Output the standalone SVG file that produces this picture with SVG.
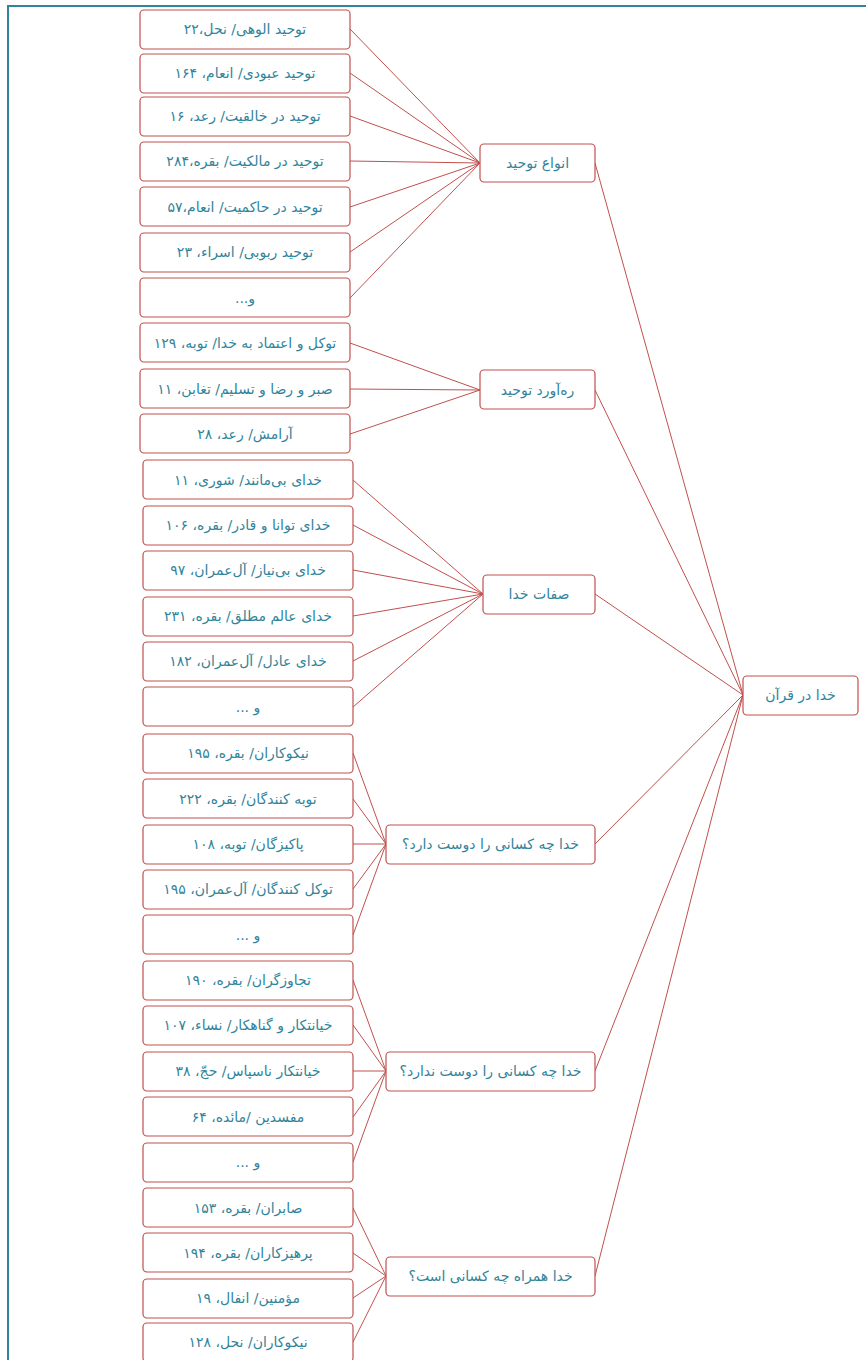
<svg xmlns="http://www.w3.org/2000/svg" width="866" height="1360" viewBox="0 0 866 1360">
<style>
.box{fill:#fff;stroke:#C0504D;stroke-width:1.2}
.t{font-family:"DejaVu Sans",sans-serif;font-size:14px;fill:#31849B;text-anchor:middle;direction:rtl}
.c line{stroke:#C0504D;stroke-width:1}
</style>
<rect width="866" height="1360" fill="#fff"/>
<path d="M8,1360 V6 H866" fill="none" stroke="#31849B" stroke-width="2"/>
<g class="c">
<line x1="350" y1="29" x2="480" y2="163"/>
<line x1="350" y1="73" x2="480" y2="163"/>
<line x1="350" y1="116" x2="480" y2="163"/>
<line x1="350" y1="161" x2="480" y2="163"/>
<line x1="350" y1="207" x2="480" y2="163"/>
<line x1="350" y1="252" x2="480" y2="163"/>
<line x1="350" y1="298" x2="480" y2="163"/>
<line x1="350" y1="343" x2="480" y2="390"/>
<line x1="350" y1="389" x2="480" y2="390"/>
<line x1="350" y1="434" x2="480" y2="390"/>
<line x1="353" y1="480" x2="483" y2="594"/>
<line x1="353" y1="525" x2="483" y2="594"/>
<line x1="353" y1="570" x2="483" y2="594"/>
<line x1="353" y1="616" x2="483" y2="594"/>
<line x1="353" y1="661" x2="483" y2="594"/>
<line x1="353" y1="707" x2="483" y2="594"/>
<line x1="353" y1="753" x2="386" y2="844"/>
<line x1="353" y1="799" x2="386" y2="844"/>
<line x1="353" y1="844" x2="386" y2="844"/>
<line x1="353" y1="889" x2="386" y2="844"/>
<line x1="353" y1="935" x2="386" y2="844"/>
<line x1="353" y1="980" x2="386" y2="1071"/>
<line x1="353" y1="1025" x2="386" y2="1071"/>
<line x1="353" y1="1071" x2="386" y2="1071"/>
<line x1="353" y1="1117" x2="386" y2="1071"/>
<line x1="353" y1="1162" x2="386" y2="1071"/>
<line x1="353" y1="1208" x2="386" y2="1276"/>
<line x1="353" y1="1253" x2="386" y2="1276"/>
<line x1="353" y1="1298" x2="386" y2="1276"/>
<line x1="353" y1="1342" x2="386" y2="1276"/>
<line x1="595" y1="163" x2="743" y2="695"/>
<line x1="595" y1="390" x2="743" y2="695"/>
<line x1="595" y1="594" x2="743" y2="695"/>
<line x1="595" y1="844" x2="743" y2="695"/>
<line x1="595" y1="1071" x2="743" y2="695"/>
<line x1="595" y1="1276" x2="743" y2="695"/>
</g>
<g id="root"><rect class="box" x="743" y="676" width="115" height="39" rx="4"/><text class="t" x="800.5" y="700">خدا در قرآن</text></g>
<g id="m1"><rect class="box" x="480" y="144" width="115" height="38" rx="4"/><text class="t" x="537.5" y="168">انواع توحید</text></g>
<g id="m2"><rect class="box" x="480" y="370" width="115" height="39" rx="4"/><text class="t" x="537.5" y="395">ره‌آورد توحید</text></g>
<g id="m3"><rect class="box" x="483" y="575" width="112" height="39" rx="4"/><text class="t" x="539" y="599">صفات خدا</text></g>
<g id="m4"><rect class="box" x="386" y="825" width="209" height="39" rx="4"/><text class="t" x="490.5" y="849">خدا چه کسانی را دوست دارد؟</text></g>
<g id="m5"><rect class="box" x="386" y="1052" width="209" height="39" rx="4"/><text class="t" x="490.5" y="1076">خدا چه کسانی را دوست ندارد؟</text></g>
<g id="m6"><rect class="box" x="386" y="1257" width="209" height="39" rx="4"/><text class="t" x="490.5" y="1281">خدا همراه چه کسانی است؟</text></g>
<g id="n1"><rect class="box" x="140" y="10" width="210" height="39" rx="4"/><text class="t" x="245" y="34">توحید الوهی/ نحل،۲۲</text></g>
<g id="n2"><rect class="box" x="140" y="54" width="210" height="39" rx="4"/><text class="t" x="245" y="78">توحید عبودی/ انعام، ۱۶۴</text></g>
<g id="n3"><rect class="box" x="140" y="97" width="210" height="39" rx="4"/><text class="t" x="245" y="121">توحید در خالقیت/ رعد، ۱۶</text></g>
<g id="n4"><rect class="box" x="140" y="142" width="210" height="39" rx="4"/><text class="t" x="245" y="166">توحید در مالکیت/ بقره،۲۸۴</text></g>
<g id="n5"><rect class="box" x="140" y="187" width="210" height="39" rx="4"/><text class="t" x="245" y="212">توحید در حاکمیت/ انعام،۵۷</text></g>
<g id="n6"><rect class="box" x="140" y="233" width="210" height="39" rx="4"/><text class="t" x="245" y="257">توحید ربوبی/ اسراء، ۲۳</text></g>
<g id="n7"><rect class="box" x="140" y="278" width="210" height="39" rx="4"/><text class="t" x="245" y="303">و...</text></g>
<g id="n8"><rect class="box" x="140" y="323" width="210" height="39" rx="4"/><text class="t" x="245" y="348">توکل و اعتماد به خدا/ توبه، ۱۲۹</text></g>
<g id="n9"><rect class="box" x="140" y="369" width="210" height="39" rx="4"/><text class="t" x="245" y="394">صبر و رضا و تسلیم/ تغابن، ۱۱</text></g>
<g id="n10"><rect class="box" x="140" y="414" width="210" height="39" rx="4"/><text class="t" x="245" y="439">آرامش/ رعد، ۲۸</text></g>
<g id="n11"><rect class="box" x="143" y="460" width="210" height="39" rx="4"/><text class="t" x="248" y="485">خدای بی‌مانند/ شوری، ۱۱</text></g>
<g id="n12"><rect class="box" x="143" y="506" width="210" height="39" rx="4"/><text class="t" x="248" y="530">خدای توانا و قادر/ بقره، ۱۰۶</text></g>
<g id="n13"><rect class="box" x="143" y="551" width="210" height="39" rx="4"/><text class="t" x="248" y="575">خدای بی‌نیاز/ آل‌عمران، ۹۷</text></g>
<g id="n14"><rect class="box" x="143" y="597" width="210" height="39" rx="4"/><text class="t" x="248" y="621">خدای عالم مطلق/ بقره، ۲۳۱</text></g>
<g id="n15"><rect class="box" x="143" y="642" width="210" height="39" rx="4"/><text class="t" x="248" y="666">خدای عادل/ آل‌عمران، ۱۸۲</text></g>
<g id="n16"><rect class="box" x="143" y="687" width="210" height="39" rx="4"/><text class="t" x="248" y="712">و ...</text></g>
<g id="n17"><rect class="box" x="143" y="734" width="210" height="39" rx="4"/><text class="t" x="248" y="758">نیکوکاران/ بقره، ۱۹۵</text></g>
<g id="n18"><rect class="box" x="143" y="779" width="210" height="39" rx="4"/><text class="t" x="248" y="804">توبه کنندگان/ بقره، ۲۲۲</text></g>
<g id="n19"><rect class="box" x="143" y="825" width="210" height="39" rx="4"/><text class="t" x="248" y="849">پاکیزگان/ توبه، ۱۰۸</text></g>
<g id="n20"><rect class="box" x="143" y="870" width="210" height="39" rx="4"/><text class="t" x="248" y="894">توکل کنندگان/ آل‌عمران، ۱۹۵</text></g>
<g id="n21"><rect class="box" x="143" y="915" width="210" height="39" rx="4"/><text class="t" x="248" y="940">و ...</text></g>
<g id="n22"><rect class="box" x="143" y="961" width="210" height="39" rx="4"/><text class="t" x="248" y="985">تجاوزگران/ بقره، ۱۹۰</text></g>
<g id="n23"><rect class="box" x="143" y="1006" width="210" height="39" rx="4"/><text class="t" x="248" y="1030">خیانتکار و گناهکار/ نساء، ۱۰۷</text></g>
<g id="n24"><rect class="box" x="143" y="1052" width="210" height="39" rx="4"/><text class="t" x="248" y="1076">خیانتکار ناسپاس/ حجّ، ۳۸</text></g>
<g id="n25"><rect class="box" x="143" y="1097" width="210" height="39" rx="4"/><text class="t" x="248" y="1122">مفسدین /مائده، ۶۴</text></g>
<g id="n26"><rect class="box" x="143" y="1143" width="210" height="39" rx="4"/><text class="t" x="248" y="1167">و ...</text></g>
<g id="n27"><rect class="box" x="143" y="1188" width="210" height="39" rx="4"/><text class="t" x="248" y="1213">صابران/ بقره، ۱۵۳</text></g>
<g id="n28"><rect class="box" x="143" y="1233" width="210" height="39" rx="4"/><text class="t" x="248" y="1258">پرهیزکاران/ بقره، ۱۹۴</text></g>
<g id="n29"><rect class="box" x="143" y="1279" width="210" height="39" rx="4"/><text class="t" x="248" y="1303">مؤمنین/ انفال، ۱۹</text></g>
<g id="n30"><rect class="box" x="143" y="1323" width="210" height="39" rx="4"/><text class="t" x="248" y="1347">نیکوکاران/ نحل، ۱۲۸</text></g>
</svg>
